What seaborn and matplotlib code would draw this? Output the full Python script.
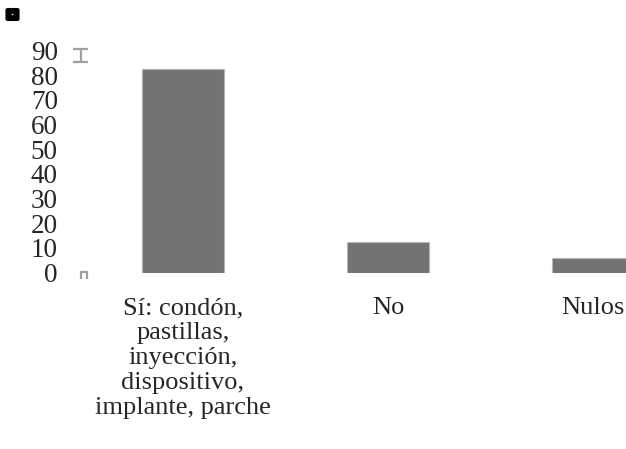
import matplotlib
matplotlib.use('Agg')
import matplotlib.pyplot as plt
import seaborn as sns
import pandas as pd
from matplotlib.patches import FancyBboxPatch, Circle
from matplotlib.lines import Line2D

# Datos
categorias = ['Sí: condón,\npastillas,\ninyección,\ndispositivo,\nimplante, parche', 'No', 'Nulos']
valores = [82.3, 12.2, 6.0]
yticks = [0, 10, 20, 30, 40, 50, 60, 70, 80, 90]

df = pd.DataFrame({'Respuesta': categorias, 'Porcentaje': valores})

sns.set_style('white')
plt.rcParams['font.family'] = ['Liberation Serif', 'DejaVu Serif']

W, H = 626, 449
fig = plt.figure(figsize=(6.26, 4.49), dpi=100)
ax = fig.add_axes([80 / W, (H - 272.5) / H, (W - 80) / W, 222 / H])

sns.barplot(data=df, x='Respuesta', y='Porcentaje', color='#737373', width=0.4,
            edgecolor='#b5b5b5', linewidth=0.8, saturation=1, ax=ax)

ax.set_xlim(-0.502, 2.161)
ax.set_ylim(0, 90)
ax.set_yticks(yticks)
ax.set_yticklabels([str(t) for t in yticks], fontsize=19.5)
ax.tick_params(axis='x', labelsize=19, length=0, pad=18)
ax.tick_params(axis='y', length=0, pad=16)
for lab in ax.get_xticklabels():
    lab.set_linespacing(1.17)
ax.set_xlabel('')
ax.set_ylabel('')
for s in ax.spines.values():
    s.set_visible(False)


def px_line(xs, ys, **kw):
    fig.add_artist(Line2D([x / W for x in xs], [1 - y / H for y in ys],
                          transform=fig.transFigure, **kw))


# Detalles decorativos (marcas grises del eje)
gris = dict(color='#a0a0a0', linewidth=1.6, solid_capstyle='butt')
px_line([73, 88], [49, 49], **gris)
px_line([73, 88], [62, 62], **gris)
px_line([80.5, 80.5], [49, 62], **gris)
px_line([81, 81, 87, 87], [279, 272, 272, 279], **gris)

# Icono superior
icono = FancyBboxPatch((8 / W, 1 - 19 / H), 9 / W, 9 / H, boxstyle='round,pad=0.003',
                       transform=fig.transFigure, facecolor='black', edgecolor='black')
fig.add_artist(icono)
fig.add_artist(Circle((12.5 / W, 1 - 14.5 / H), 0.0015, transform=fig.transFigure,
                      facecolor='white', edgecolor='none'))

fig.savefig('out.png', dpi=100)
